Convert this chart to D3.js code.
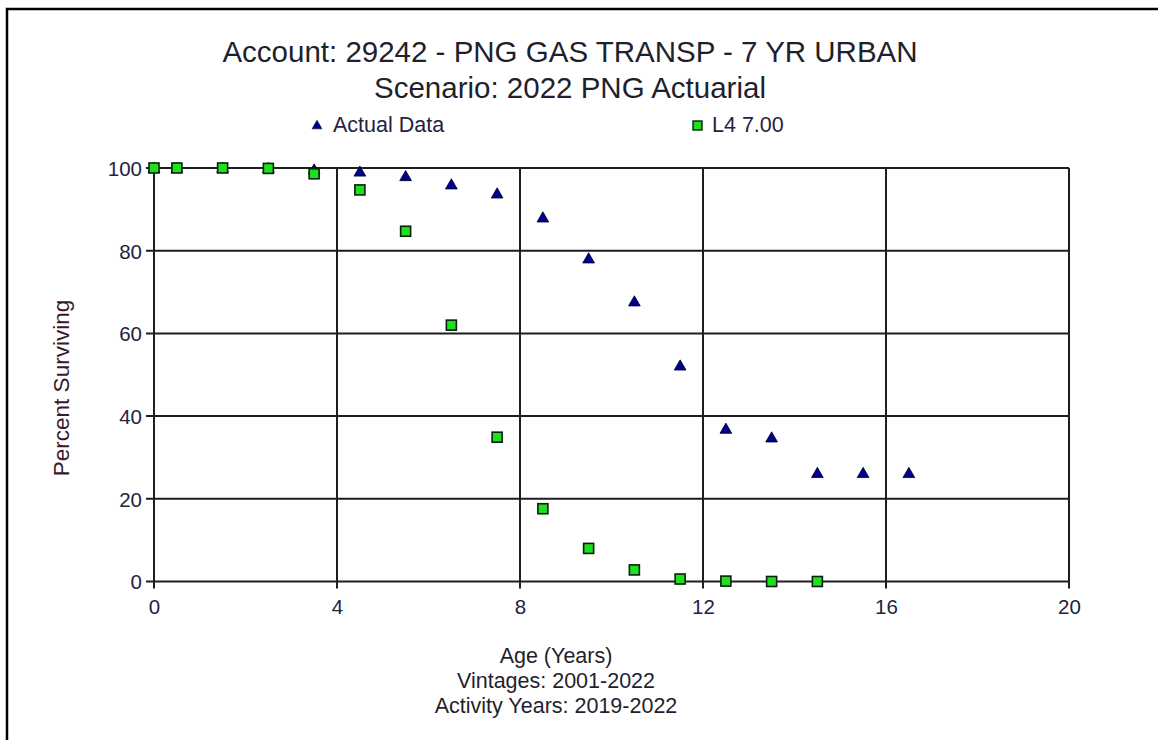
<!DOCTYPE html>
<html>
<head>
<meta charset="utf-8">
<script src="https://cdn.jsdelivr.net/npm/d3@7"></script>
<style>
  html, body { margin: 0; padding: 0; background: #fff; }
  svg { display: block; font-family: Arial, "Liberation Sans", sans-serif; }
</style>
</head>
<body>
<svg id="chart" width="1158" height="740"></svg>
<script>
// Survivor curve data: observed retirement experience and the fitted Iowa curve
const ages = [0, 0.5, 1.5, 2.5, 3.5, 4.5, 5.5, 6.5, 7.5, 8.5, 9.5, 10.5, 11.5, 12.5, 13.5, 14.5, 15.5, 16.5];
const actualData = [100, 100, 100, 100, 99.6, 99.1, 98.0, 96.0, 93.8, 88.0, 78.1, 67.7, 52.2, 36.9, 34.8, 26.2, 26.2, 26.2];
const curveAges = [0, 0.5, 1.5, 2.5, 3.5, 4.5, 5.5, 6.5, 7.5, 8.5, 9.5, 10.5, 11.5, 12.5, 13.5, 14.5];
const curveL4 = [100, 100, 100, 99.9, 98.6, 94.7, 84.7, 62.0, 34.9, 17.6, 8.0, 2.8, 0.6, 0.1, 0.0, 0.0];
const xTicks = [0, 4, 8, 12, 16, 20];
const yTicks = [0, 20, 40, 60, 80, 100];
const titleLines = ["Account: 29242 - PNG GAS TRANSP - 7 YR URBAN", "Scenario: 2022 PNG Actuarial"];
const xTitleLines = ["Age (Years)", "Vintages: 2001-2022", "Activity Years: 2019-2022"];
const legendLabels = ["Actual Data", "L4 7.00"];

const svg = d3.select("#chart");
const textColor = "#23233f";
const font = "Arial, 'Liberation Sans', sans-serif";

// outer frame
svg.append("path")
  .attr("d", "M7,745 L7,9 L1165,9")
  .attr("fill", "none").attr("stroke", "#000").attr("stroke-width", 2.5);

const x = d3.scaleLinear().domain([0, 20]).range([154, 1069]);
const y = d3.scaleLinear().domain([0, 100]).range([581.5, 168]);

// grid
const grid = svg.append("g").attr("stroke", "#1e1e1e").attr("stroke-width", 2);
grid.selectAll(".vg").data(xTicks).join("line")
  .attr("x1", d => x(d)).attr("x2", d => x(d))
  .attr("y1", y(100)).attr("y2", y(0) + 7);
grid.selectAll(".hg").data(yTicks).join("line")
  .attr("x1", x(0) - 8).attr("x2", x(20))
  .attr("y1", d => y(d)).attr("y2", d => y(d));

// axis labels
const xAxis = d3.axisBottom(x).tickValues(xTicks).tickSize(0).tickPadding(0);
const gx = svg.append("g").attr("transform", `translate(0,${y(0)})`).call(xAxis);
gx.select(".domain").remove();
gx.selectAll("text").attr("dy", null).attr("y", 32)
  .attr("font-size", 20.5).attr("fill", textColor).attr("font-family", font);

const yAxis = d3.axisLeft(y).tickValues(yTicks).tickSize(0).tickPadding(0);
const gy = svg.append("g").attr("transform", `translate(${x(0)},0)`).call(yAxis);
gy.select(".domain").remove();
gy.selectAll("text").attr("x", -12).attr("dy", "0.36em")
  .attr("font-size", 20.5).attr("fill", textColor).attr("font-family", font);

// titles
svg.append("g").selectAll("text").data(titleLines).join("text")
  .attr("x", 570).attr("y", (d, i) => 62 + i * 36)
  .attr("text-anchor", "middle").attr("font-size", 29.5).attr("fill", "#1f1f2e")
  .text(d => d);

svg.append("g").selectAll("text").data(xTitleLines).join("text")
  .attr("x", 556).attr("y", (d, i) => 663 + i * 25)
  .attr("text-anchor", "middle").attr("font-size", 21.5).attr("fill", "#1f1f2e")
  .text(d => d);

svg.append("text")
  .attr("transform", "translate(69,388) rotate(-90)")
  .attr("text-anchor", "middle").attr("font-size", 22.5).attr("fill", "#3a1a2a")
  .text("Percent Surviving");

// markers
const tri = d3.symbol().type(d3.symbolTriangle).size(60);

svg.append("g").selectAll("path").data(ages).join("path")
  .attr("d", tri)
  .attr("transform", (d, i) => `translate(${x(d)},${y(actualData[i]) + 1})`)
  .attr("fill", "#00008b").attr("stroke", "#000030").attr("stroke-width", 0.8);

svg.append("g").selectAll("rect").data(curveAges).join("rect")
  .attr("x", d => x(d) - 5).attr("y", (d, i) => y(curveL4[i]) - 5)
  .attr("width", 10).attr("height", 10)
  .attr("fill", "#1ee01e").attr("stroke", "#0a200a").attr("stroke-width", 1.6);

// legend
const legend = svg.append("g");
legend.append("path").attr("d", d3.symbol().type(d3.symbolTriangle).size(42))
  .attr("transform", "translate(317,126)")
  .attr("fill", "#00008b").attr("stroke", "#000030").attr("stroke-width", 0.6);
legend.append("text").attr("x", 333).attr("y", 132).attr("font-size", 21.5).attr("fill", textColor).text(legendLabels[0]);
legend.append("rect").attr("x", 693).attr("y", 121).attr("width", 9).attr("height", 9)
  .attr("fill", "#1ee01e").attr("stroke", "#0a200a").attr("stroke-width", 1.4);
legend.append("text").attr("x", 712).attr("y", 132).attr("font-size", 21.5).attr("fill", textColor).text(legendLabels[1]);
</script>
</body>
</html>
